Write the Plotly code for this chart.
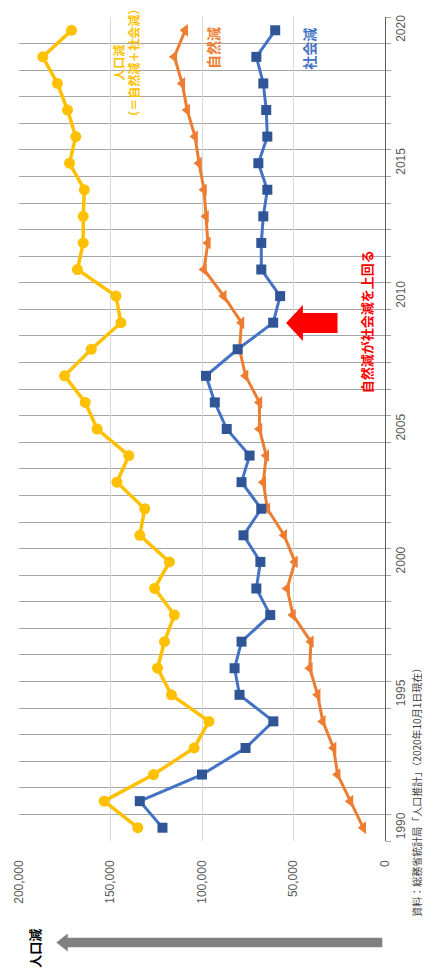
import plotly.graph_objects as go

# Annual population decrease, 1990-2020
years = list(range(1990, 2021))

# 人口減（＝自然減＋社会減）
total_decrease = [135100, 153500, 126500, 104300, 96200, 116700, 124300, 120500, 115100, 125900,
                  117800, 134000, 131300, 146500, 140000, 157300, 163800, 175100, 160500, 144300,
                  147000, 168100, 164900, 164900, 164300, 172400, 169000, 173500, 179000, 187000,
                  171300]
# 自然減
natural_decrease = [11900, 18900, 25900, 28100, 34000, 36800, 41100, 40500, 50300, 53500,
                    49200, 55100, 64300, 66500, 64900, 68600, 68600, 76200, 79500, 78400,
                    88100, 98900, 96800, 97800, 98900, 101600, 103800, 108100, 110800, 115100,
                    109200]
# 社会減
social_decrease = [121600, 134000, 100000, 76200, 61000, 79500, 82200, 78400, 62700, 70300,
                   68100, 77300, 67600, 78400, 74000, 86500, 93000, 97800, 80500, 61100,
                   57300, 67600, 67600, 66500, 64300, 69200, 64300, 64900, 66500, 70300,
                   60000]

value_ticks = [0, 50000, 100000, 150000, 200000]
year_ticks = [1990, 1995, 2000, 2005, 2010, 2015, 2020]

W, H = 426, 978
L, R, T, B = 15, 385, 17, 841  # plot area in pixels


def px(x):
    return (x - L) / (R - L)


def py(y):
    return (B - y) / (B - T)


JP = "Noto Sans CJK JP"
YELLOW, ORANGE, BLUE, BLUE_DARK = "#FFC000", "#ED7D31", "#4472C4", "#2F5597"

fig = go.Figure()
fig.add_trace(go.Scatter(x=total_decrease, y=years, mode="lines+markers",
                         line=dict(color=YELLOW, width=3.5),
                         marker=dict(symbol="circle", size=11, color=YELLOW),
                         showlegend=False))
fig.add_trace(go.Scatter(x=natural_decrease, y=years, mode="lines+markers",
                         line=dict(color=ORANGE, width=3),
                         marker=dict(symbol="triangle-left", size=11, color=ORANGE),
                         showlegend=False))
fig.add_trace(go.Scatter(x=social_decrease, y=years, mode="lines+markers",
                         line=dict(color=BLUE, width=3),
                         marker=dict(symbol="square", size=10, color=BLUE_DARK),
                         showlegend=False))

fig.update_xaxes(range=[200000, 0], tickvals=value_ticks,
                 ticktext=[f"{v:,}" for v in value_ticks],
                 tickangle=-90, ticklabelstandoff=16,
                 tickfont=dict(family="Liberation Sans", size=12, color="#595959"),
                 showgrid=True, gridcolor="#D9D9D9", gridwidth=1,
                 zeroline=False, showline=False, ticks="")
fig.update_yaxes(range=[1989.5, 2020.5], side="right", tickvals=year_ticks,
                 tickangle=-90, ticklabelstandoff=5,
                 tickfont=dict(family="Liberation Sans", size=12, color="#595959"),
                 showgrid=False, zeroline=False,
                 showline=True, linecolor="#595959", linewidth=1, ticks="",
                 minor=dict(tickvals=[y + 0.5 for y in range(1989, 2021)],
                            showgrid=True, gridcolor="#A6A6A6", gridwidth=1,
                            ticks="outside", ticklen=5, tickcolor="#A6A6A6"))

shapes = []
# white label boxes over the grid
for x0, y0, x1, y1 in [(97, 0, 143, 145), (196, 17, 226, 80), (293, 17, 323, 80)]:
    shapes.append(dict(type="rect", xref="paper", yref="paper",
                       x0=px(x0), x1=px(x1), y0=py(y1), y1=py(y0),
                       fillcolor="white", line=dict(width=0), layer="between"))

# red block arrow pointing at the crossover
red_pts = [(285, 323), (302, 305), (302, 313), (337, 313), (337, 333), (302, 333), (302, 341)]
shapes.append(dict(type="path", xref="paper", yref="paper",
                   path="M " + " L ".join(f"{px(a)},{py(b)}" for a, b in red_pts) + " Z",
                   fillcolor="#FF0000", line=dict(width=0), layer="above"))

# grey arrow under the value axis
grey_pts = [(53, 942.5), (64, 934), (64, 938), (382, 938), (382, 947), (64, 947), (64, 951)]
shapes.append(dict(type="path", xref="paper", yref="paper",
                   path="M " + " L ".join(f"{px(a)},{py(b)}" for a, b in grey_pts) + " Z",
                   fillcolor="#808080", line=dict(color="#808080", width=0.5), layer="above"))

annotations = [
    dict(x=px(124), y=py(63), text="<b>人口減</b><br><b>（＝自然減＋社会減）</b>", textangle=-90,
         font=dict(family=JP, size=12, color=YELLOW), align="center"),
    dict(x=px(211), y=py(48), text="<b>自然減</b>", textangle=-90,
         font=dict(family=JP, size=14, color=ORANGE)),
    dict(x=px(308), y=py(49), text="<b>社会減</b>", textangle=-90,
         font=dict(family=JP, size=14, color=BLUE)),
    dict(x=px(366), y=py(322), text="<b>自然減が社会減を上回る</b>", textangle=-90,
         font=dict(family=JP, size=13, color="#FF0000")),
    dict(x=px(30), y=py(948), text="<b>人口減</b>", textangle=-90,
         font=dict(family=JP, size=13, color="#000000")),
    dict(x=px(416), y=py(790), text="資料：総務省統計局「人口推計」（2020年10月1日現在）",
         textangle=-90, font=dict(family=JP, size=10, color="#404040")),
]
for a in annotations:
    a.update(xref="paper", yref="paper", showarrow=False,
             xanchor="center", yanchor="middle")

fig.update_layout(width=W, height=H, margin=dict(l=L, r=W - R, t=T, b=H - B),
                  paper_bgcolor="white", plot_bgcolor="white",
                  shapes=shapes, annotations=annotations)

fig.write_html("out.html")
